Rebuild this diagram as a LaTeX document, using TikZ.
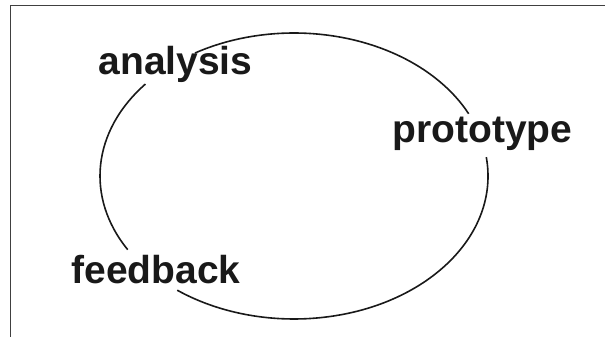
\documentclass[tikz,border=0pt]{standalone}
\usepackage{fontspec}
\setmainfont{Liberation Sans}
\begin{document}
\begin{tikzpicture}[x=1pt,y=1pt,
  phase/.style={font=\fontsize{39}{41}\selectfont\bfseries, text=black!90, anchor=base, inner sep=0pt},
  cycle/.style={line width=1.6pt, draw=black!90},
  frame/.style={line width=1pt, draw=black!75}]
\useasboundingbox (0,0) rectangle (605,337);
% frame edges
\coordinate (ftl) at (10.5,331);
\coordinate (ftr) at (605,331);
\coordinate (fbl) at (10.5,0);
\draw[frame] (fbl) -- (ftl) -- (ftr);
% labels
\node[phase] (analysis) at (175.5,262) {analysis};
\node[phase] (prototype) at (482.5,194) {prototype};
\node[phase] (feedback) at (156,53) {feedback};
% broken ellipse of the cycle
\coordinate (c) at (294,161);
\draw[cycle] ([shift={(120.7:194pt and 143pt)}]c) arc[start angle=120.7, end angle=25.8, x radius=194pt, y radius=143pt];
\draw[cycle] ([shift={(7.6:194pt and 143pt)}]c) arc[start angle=7.6, end angle=-127, x radius=194pt, y radius=143pt];
\draw[cycle] ([shift={(211:194pt and 143pt)}]c) arc[start angle=211, end angle=140, x radius=194pt, y radius=143pt];
\end{tikzpicture}
\end{document}
